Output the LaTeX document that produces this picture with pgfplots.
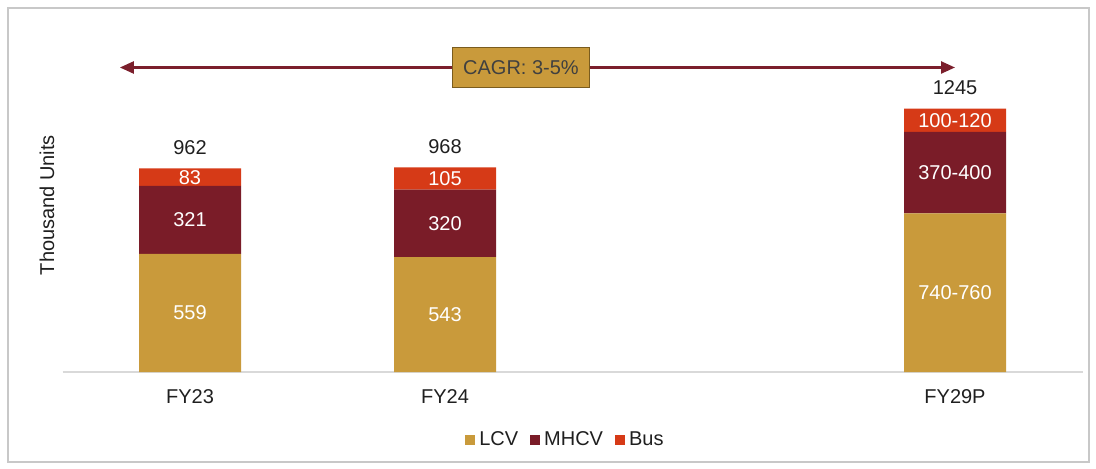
\documentclass[border=0pt]{standalone}
\usepackage{pgfplots}
\pgfplotsset{compat=1.18}
\usepackage{fontspec}
\setmainfont{Liberation Sans}
\usetikzlibrary{arrows.meta}
\definecolor{lcv}{HTML}{C99A3B}
\definecolor{mhcv}{HTML}{7A1C28}
\definecolor{bus}{HTML}{D63A17}
\definecolor{arrowc}{HTML}{7B1F2C}
\definecolor{boxedge}{HTML}{7A5C1E}
\definecolor{txt}{HTML}{1F1F1F}
\definecolor{boxtxt}{HTML}{404040}
\definecolor{framec}{HTML}{C8C8C8}
\definecolor{axisc}{HTML}{D9D9D9}
\begin{document}
\begin{tikzpicture}
\path[use as bounding box] (0pt,0pt) rectangle (548pt,234pt);
\draw[framec, line width=0.8pt] (4pt,3pt) rectangle (544.5pt,230pt);
\node[rotate=90, text=txt, font=\fontsize{10}{12}\selectfont] at (23.5pt,131.5pt) {Thousand Units};
\begin{axis}[
  at={(31.25pt,48pt)}, anchor=south west,
  scale only axis, width=510pt, height=158.6pt,
  xmin=-0.5, xmax=3.5, ymin=0, ymax=1500,
  ybar stacked, bar width=51pt,
  axis x line*=bottom, axis y line=none,
  x axis line style={axisc, line width=1pt, -},
  xtick={0,1,3}, xticklabels={FY23,FY24,FY29P},
  major tick length=0pt,
  xticklabel style={anchor=center, yshift=-12.5pt, text=txt, font=\fontsize{10}{12}\selectfont},
  clip=false,
  legend columns=3,
  legend style={at={(0.494,-0.214)}, anchor=center, draw=none, fill=none,
    font=\fontsize{10}{12}\selectfont, text=txt,
    /tikz/every even column/.append style={column sep=4pt}, inner sep=0pt},
  legend image code/.code={\fill[#1] (0.5pt,-2.6pt) rectangle (5.5pt,2.4pt);},
]
\addplot[fill=lcv, draw=none] coordinates {(0,559) (1,543) (3,750)};
\addplot[fill=mhcv, draw=none] coordinates {(0,321) (1,320) (3,385)};
\addplot[fill=bus, draw=none] coordinates {(0,83) (1,105) (3,110)};
\legend{LCV,MHCV,Bus}
\coordinate (a1) at (axis cs:0,279.5);
\coordinate (a2) at (axis cs:0,719.5);
\coordinate (a3) at (axis cs:0,921.5);
\coordinate (b1) at (axis cs:1,271.5);
\coordinate (b2) at (axis cs:1,703);
\coordinate (b3) at (axis cs:1,915.5);
\coordinate (c1) at (axis cs:3,375);
\coordinate (c2) at (axis cs:3,942.5);
\coordinate (c3) at (axis cs:3,1190);
\coordinate (ta) at (axis cs:0,1059);
\coordinate (tb) at (axis cs:1,1065);
\coordinate (tc) at (axis cs:3,1347);
\coordinate (arl) at (axis cs:-0.275,1440);
\coordinate (arr) at (axis cs:3.0,1440);
\coordinate (box) at (axis cs:1.298,1440);
\end{axis}
\begin{scope}[every node/.style={text=white, font=\fontsize{10}{12}\selectfont}]
\node at (a1) {559};
\node at (a2) {321};
\node at (a3) {83};
\node at (b1) {543};
\node at (b2) {320};
\node at (b3) {105};
\node at (c1) {740-760};
\node at (c2) {370-400};
\node at (c3) {100-120};
\end{scope}
\begin{scope}[every node/.style={text=txt, font=\fontsize{10}{12}\selectfont}]
\node at (ta) {962};
\node at (tb) {968};
\node at (tc) {1245};
\end{scope}
\draw[arrowc, line width=1.2pt, {Triangle[length=7pt,width=6pt]}-{Triangle[length=7pt,width=6pt]}] (arl) -- (arr);
\node[fill=lcv, draw=boxedge, line width=0.8pt, minimum width=68.5pt, minimum height=20pt, text=boxtxt, font=\fontsize{10}{12}\selectfont] at (box) {CAGR: 3-5\%};
\end{tikzpicture}
\end{document}
